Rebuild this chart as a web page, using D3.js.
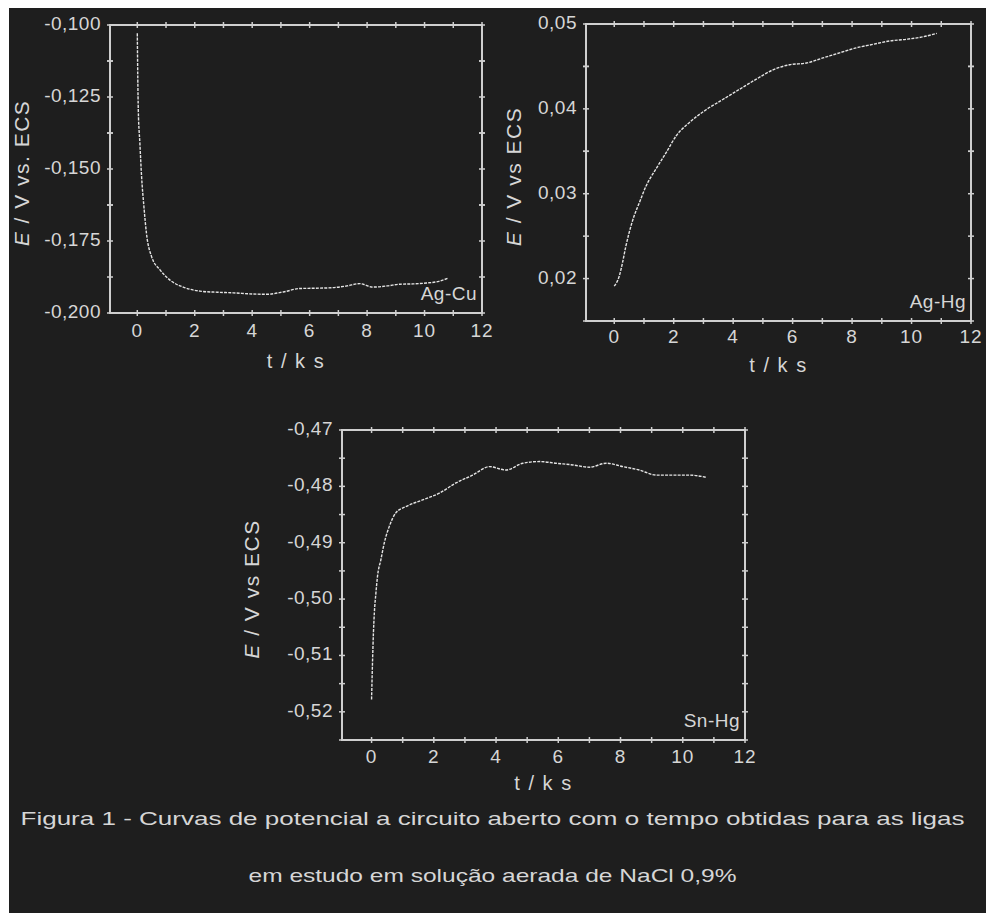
<!DOCTYPE html>
<html>
<head>
<meta charset="utf-8">
<script src="https://cdn.jsdelivr.net/npm/d3@7"></script>
<style>
  html, body { margin: 0; padding: 0; background: #fff; }
  svg { display: block; }
  text { font-family: "Liberation Sans", Arial, sans-serif; fill: #d6d6d6; }
</style>
</head>
<body>
<div id="fig"></div>
<script>
// data (t in ks, E in V)
const agCuT = [0, 0.035, 0.09, 0.15, 0.23, 0.32, 0.5, 0.79, 1.14, 1.6, 2.18, 2.8, 3.34, 4.0, 4.5, 5.08, 5.66, 6.2, 6.8, 7.3, 7.74, 8.2, 8.7, 9.14, 9.6, 10.06, 10.5, 10.8]
const agCuE = [-0.1029, -0.1295, -0.141, -0.1527, -0.163, -0.1724, -0.1805, -0.185, -0.1886, -0.191, -0.1924, -0.1928, -0.193, -0.1934, -0.1935, -0.1927, -0.1915, -0.1914, -0.1912, -0.1906, -0.1898, -0.191, -0.1906, -0.19, -0.1899, -0.1896, -0.189, -0.188]

const agHgT = [0, 0.17, 0.28, 0.39, 0.5, 0.67, 0.84, 1.07, 1.4, 1.74, 2.08, 2.53, 3.09, 3.65, 4.21, 4.78, 5.34, 5.9, 6.46, 7.02, 7.58, 8.15, 8.7, 9.27, 9.83, 10.4, 10.85]
const agHgE = [0.0191, 0.0203, 0.0219, 0.0238, 0.0254, 0.0274, 0.0289, 0.0309, 0.0329, 0.0348, 0.0368, 0.0384, 0.0399, 0.0411, 0.0423, 0.0435, 0.0446, 0.0452, 0.0454, 0.046, 0.0466, 0.0472, 0.0476, 0.048, 0.0482, 0.0485, 0.0489]

const snHgT = [0, 0.03, 0.06, 0.09, 0.14, 0.19, 0.3, 0.41, 0.57, 0.78, 1.1, 1.64, 2.18, 2.71, 3.25, 3.79, 4.32, 4.86, 5.4, 5.93, 6.47, 7.0, 7.54, 8.08, 8.6, 9.15, 9.7, 10.2, 10.76]
const snHgE = [-0.5178, -0.5113, -0.506, -0.5024, -0.4989, -0.496, -0.493, -0.49, -0.4871, -0.4847, -0.4836, -0.4824, -0.4812, -0.4794, -0.478, -0.4765, -0.4771, -0.4759, -0.4756, -0.4759, -0.4762, -0.4766, -0.4759, -0.4765, -0.4771, -0.478, -0.478, -0.478, -0.4784]

// tick values
const xTicksMajor = [0, 2, 4, 6, 8, 10, 12]
const xTicksMinor = [0, 1, 2, 3, 4, 5, 6, 7, 8, 9, 10, 11, 12]
const agCuYTicks = [-0.2, -0.175, -0.15, -0.125, -0.1]
const agHgYTicks = [0.02, 0.03, 0.04, 0.05]
const snHgYTicks = [-0.52, -0.51, -0.5, -0.49, -0.48, -0.47]

const captionLines = [
  'Figura 1 - Curvas de potencial a circuito aberto com o tempo obtidas para as ligas',
  'em estudo em solução aerada de NaCl 0,9%',
]

const W = 991, H = 913
const axisColor = '#cfcfcf'
const lineColor = '#e4e4e4'

const svg = d3.select('#fig').append('svg').attr('width', W).attr('height', H)

// dark page with the thin white scan border at top / left / right
svg.append('rect').attr('width', W).attr('height', H).attr('fill', '#fff')
svg.append('rect').attr('x', 9).attr('y', 8).attr('width', W - 9 - 5).attr('height', H - 8).attr('fill', '#1e1e1e')

const panels = [
  {
    name: 'Ag-Cu', t: agCuT, e: agCuE, yTicks: agCuYTicks, yDomain: [-0.2, -0.1], digits: 3,
    left: 110, top: 25, right: 482, bottom: 313, ylabel: 'vs. ECS', ylabelX: 23, xTickDy: 19, xLabelDy: 50,
  },
  {
    name: 'Ag-Hg', t: agHgT, e: agHgE, yTicks: agHgYTicks, yDomain: [0.015, 0.05], digits: 2,
    left: 586, top: 24, right: 971, bottom: 321, ylabel: 'vs ECS', ylabelX: 515, xTickDy: 17, xLabelDy: 46,
  },
  {
    name: 'Sn-Hg', t: snHgT, e: snHgE, yTicks: snHgYTicks, yDomain: [-0.525, -0.47], digits: 2,
    left: 342, top: 430, right: 745, bottom: 740, ylabel: 'vs ECS', ylabelX: 253, xTickDy: 18, xLabelDy: 45,
  },
]

function fmt(v, digits) {
  return v.toFixed(digits).replace('.', ',')
}

function drawPanel(p) {
  const x = d3.scaleLinear().domain([-0.95, 12]).range([p.left, p.right])
  const y = d3.scaleLinear().domain(p.yDomain).range([p.bottom, p.top])
  const g = svg.append('g')

  // minor y ticks halfway between labelled ones
  const step = p.yTicks[1] - p.yTicks[0]
  const yMinor = []
  p.yTicks.forEach(v => {
    yMinor.push(v)
    const m = v + step / 2
    if (m <= p.yDomain[1] + 1e-9) yMinor.push(m)
    const b = v - step / 2
    if (b >= p.yDomain[0] - 1e-9 && !yMinor.includes(b)) yMinor.push(b)
  })

  // frame
  g.append('rect')
    .attr('x', p.left).attr('y', p.top)
    .attr('width', p.right - p.left).attr('height', p.bottom - p.top)
    .attr('fill', 'none').attr('stroke', axisColor).attr('stroke-width', 2)

  // x ticks top and bottom
  g.selectAll('.xt').data(xTicksMinor).join('g').each(function (d) {
    const s = d3.select(this)
    ;[p.top, p.bottom].forEach(yy => {
      s.append('line').attr('x1', x(d)).attr('x2', x(d)).attr('y1', yy - 3).attr('y2', yy + 3)
        .attr('stroke', axisColor).attr('stroke-width', 1.5)
    })
  })
  // y ticks left and right
  g.selectAll('.yt').data(yMinor).join('g').each(function (d) {
    const s = d3.select(this)
    ;[p.left, p.right].forEach(xx => {
      s.append('line').attr('x1', xx - 3).attr('x2', xx + 3).attr('y1', y(d)).attr('y2', y(d))
        .attr('stroke', axisColor).attr('stroke-width', 1.5)
    })
  })

  // tick labels
  g.selectAll('.xl').data(xTicksMajor).join('text')
    .attr('x', d => x(d)).attr('y', p.bottom + p.xTickDy)
    .attr('text-anchor', 'middle').attr('dominant-baseline', 'middle')
    .attr('font-size', 19).attr('letter-spacing', 1).text(d => d)
  g.selectAll('.yl').data(p.yTicks).join('text')
    .attr('x', p.left - 9).attr('y', d => y(d))
    .attr('text-anchor', 'end').attr('dominant-baseline', 'middle')
    .attr('font-size', 19).attr('letter-spacing', 0.5).text(d => fmt(d, p.digits))

  // axis titles
  g.append('text')
    .attr('x', (p.left + p.right) / 2).attr('y', p.bottom + p.xLabelDy)
    .attr('text-anchor', 'middle').attr('dominant-baseline', 'middle')
    .attr('font-size', 20).attr('letter-spacing', 1.5).text('t / k s')
  const yl = g.append('text')
    .attr('transform', `translate(${p.ylabelX},${(p.top + p.bottom) / 2 + 4}) rotate(-90)`)
    .attr('text-anchor', 'middle').attr('dominant-baseline', 'middle')
    .attr('font-size', 21).attr('letter-spacing', 1.5)
  yl.append('tspan').attr('font-style', 'italic').text('E')
  yl.append('tspan').text(' / V ' + p.ylabel)

  // alloy name in the lower right corner
  g.append('text')
    .attr('x', p.right - 5).attr('y', p.bottom - 18)
    .attr('text-anchor', 'end').attr('dominant-baseline', 'middle')
    .attr('font-size', 19).attr('letter-spacing', 0.5).text(p.name)

  // curve
  const pts = p.t.map((t, i) => [t, p.e[i]])
  g.append('path')
    .datum(pts)
    .attr('fill', 'none').attr('stroke', lineColor).attr('stroke-width', 1.4)
    .attr('stroke-dasharray', '3 1.2')
    .attr('d', d3.line().x(d => x(d[0])).y(d => y(d[1])).curve(d3.curveMonotoneX))
}

panels.forEach(drawPanel)

// caption
svg.selectAll('.cap').data(captionLines).join('text')
  .attr('x', W / 2 - 3).attr('y', (d, i) => 820 + i * 57)
  .attr('text-anchor', 'middle').attr('dominant-baseline', 'middle')
  .attr('font-size', 19)
  .attr('textLength', (d, i) => (i === 0 ? 944 : 488))
  .attr('lengthAdjust', 'spacingAndGlyphs')
  .text(d => d)
</script>
</body>
</html>
